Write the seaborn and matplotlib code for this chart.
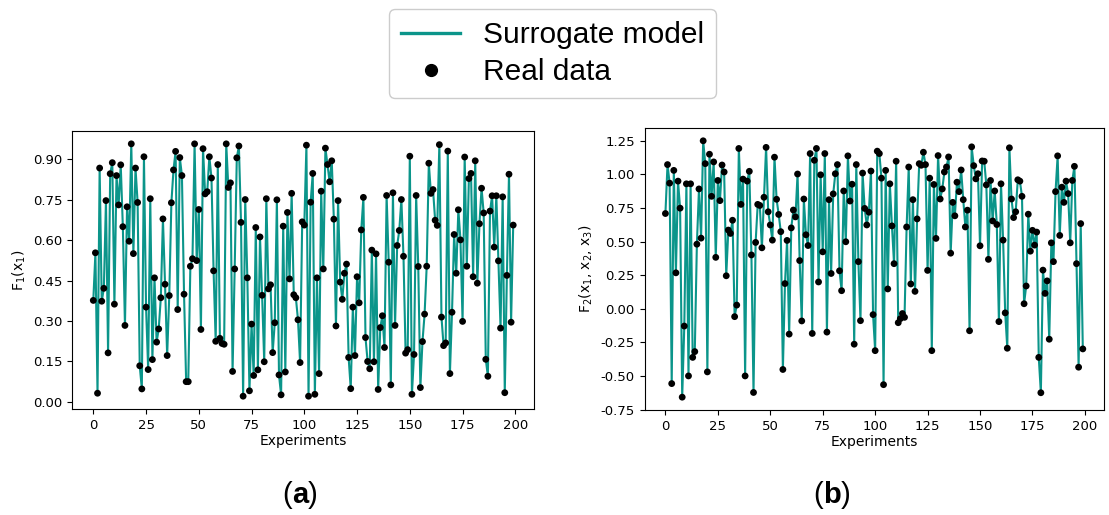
import numpy as np
import seaborn as sns
import matplotlib
matplotlib.use("Agg")
import matplotlib.pyplot as plt
from matplotlib.lines import Line2D
from matplotlib.ticker import FormatStrFormatter
from matplotlib.offsetbox import TextArea, HPacker, AnnotationBbox

# Objective values per experiment
experiments = list(range(200))

f1_values = [
    0.376, 0.553, 0.031, 0.868, 0.373, 0.421, 0.747, 0.181, 0.847, 0.888,
    0.362, 0.840, 0.731, 0.880, 0.650, 0.283, 0.724, 0.596, 0.958, 0.550,
    0.868, 0.740, 0.133, 0.047, 0.910, 0.351, 0.119, 0.754, 0.156, 0.460,
    0.221, 0.270, 0.386, 0.679, 0.436, 0.171, 0.394, 0.739, 0.861, 0.930,
    0.342, 0.907, 0.840, 0.399, 0.074, 0.074, 0.503, 0.531, 0.958, 0.524,
    0.714, 0.268, 0.940, 0.772, 0.780, 0.910, 0.831, 0.486, 0.224, 0.881,
    0.235, 0.216, 0.213, 0.958, 0.796, 0.813, 0.112, 0.493, 0.906, 0.950,
    0.666, 0.020, 0.751, 0.460, 0.040, 0.288, 0.097, 0.647, 0.118, 0.612,
    0.395, 0.148, 0.754, 0.419, 0.434, 0.182, 0.293, 0.750, 0.099, 0.025,
    0.652, 0.110, 0.703, 0.456, 0.774, 0.397, 0.386, 0.304, 0.145, 0.668,
    0.656, 0.953, 0.020, 0.741, 0.848, 0.027, 0.460, 0.104, 0.782, 0.493,
    0.942, 0.881, 0.817, 0.895, 0.678, 0.281, 0.747, 0.444, 0.380, 0.477,
    0.511, 0.164, 0.048, 0.351, 0.171, 0.464, 0.367, 0.638, 0.759, 0.238,
    0.149, 0.122, 0.563, 0.148, 0.549, 0.045, 0.275, 0.319, 0.201, 0.766,
    0.518, 0.062, 0.776, 0.283, 0.580, 0.636, 0.751, 0.540, 0.180, 0.193,
    0.912, 0.027, 0.175, 0.766, 0.502, 0.052, 0.223, 0.325, 0.503, 0.886,
    0.774, 0.788, 0.674, 0.655, 0.955, 0.314, 0.208, 0.218, 0.931, 0.104,
    0.332, 0.621, 0.477, 0.713, 0.601, 0.298, 0.909, 0.503, 0.829, 0.848,
    0.464, 0.895, 0.440, 0.661, 0.793, 0.701, 0.157, 0.094, 0.708, 0.765,
    0.574, 0.765, 0.523, 0.273, 0.761, 0.033, 0.469, 0.845, 0.295, 0.656,
]

f2_values = [
    0.709, 1.073, 0.935, -0.556, 1.030, 0.268, 0.950, 0.749, -0.657, -0.128,
    0.930, -0.499, 0.930, -0.361, -0.318, 0.481, 0.892, 0.526, 1.250, 1.080,
    -0.469, 1.150, 0.837, 1.093, 0.383, 0.955, 0.805, 1.070, 1.018, 0.246,
    0.586, 0.561, 0.659, -0.058, 0.028, 1.193, 0.777, 0.965, -0.499, 0.950,
    1.023, 0.401, -0.622, 0.494, 0.777, 0.769, 0.454, 0.830, 1.201, 0.722,
    0.624, 0.511, 1.128, 0.815, 0.702, 0.574, -0.451, 0.188, 0.509, -0.188,
    0.602, 0.735, 0.684, 1.003, 0.359, -0.090, 0.817, 0.551, 0.471, 1.155,
    -0.183, 1.105, 1.193, 0.200, 0.997, 0.424, 1.155, -0.173, 0.812, 0.263,
    0.855, 1.005, 1.073, 0.283, 0.135, 0.877, 0.499, 1.138, 0.802, 0.927,
    -0.263, 1.073, 0.351, -0.088, 1.010, 0.747, 0.624, 0.719, 1.025, -0.043,
    -0.311, 1.173, 1.155, 0.972, -0.564, 1.030, 0.148, 0.930, 0.617, 0.336,
    1.098, -0.103, -0.073, -0.035, -0.063, 0.609, 1.055, 0.185, 0.812, 0.130,
    0.669, 1.080, 1.068, 1.165, 1.073, 0.286, 0.972, -0.311, 0.925, 0.524,
    1.140, 0.817, 0.892, 1.018, 1.055, 1.130, 0.414, 0.792, 0.692, 0.942,
    0.872, 1.033, 0.812, 0.609, 0.734, -0.163, 1.205, 1.065, 0.967, 1.005,
    0.469, 1.100, 1.098, 0.922, 0.368, 0.955, 0.654, 0.877, 0.627, -0.095,
    0.930, 0.511, -0.030, -0.293, 1.198, 0.817, 0.679, 0.722, 0.960, 0.950,
    0.837, 0.038, 0.170, 0.704, 0.429, 0.584, 0.474, 0.571, -0.361, -0.624,
    0.288, 0.115, 0.208, -0.226, 0.491, 0.351, 0.872, 1.138, 0.546, 0.905,
    0.792, 0.950, 0.857, 0.491, 0.955, 1.060, 0.336, -0.434, 0.634, -0.298,
]

x_ticks = [0, 25, 50, 75, 100, 125, 150, 175, 200]
f1_ticks = [0.00, 0.15, 0.30, 0.45, 0.60, 0.75, 0.90]
f2_ticks = [-0.75, -0.50, -0.25, 0.00, 0.25, 0.50, 0.75, 1.00, 1.25]

x_label = "Experiments"
f1_label = "F$_1$(x$_1$)"
f2_label = "F$_2$(x$_1$, x$_2$, x$_3$)"
legend_labels = ["Surrogate model", "Real data"]
panel_tags = ["a", "b"]

TEAL = "#0b958a"

fig = plt.figure(figsize=(11.09, 5.15), dpi=100)
ax1 = fig.add_axes([0.0652, 0.2062, 0.4165, 0.5390])
ax2 = fig.add_axes([0.5812, 0.2039, 0.4140, 0.5476])

panels = [
    (ax1, f1_values, f1_ticks, f1_label),
    (ax2, f2_values, f2_ticks, f2_label),
]

for ax, vals, yt, ylab in panels:
    sns.lineplot(x=experiments, y=vals, ax=ax, color=TEAL, linewidth=1.5,
                 zorder=1)
    sns.scatterplot(x=experiments, y=vals, ax=ax, color="black", s=24,
                    linewidth=0, edgecolor="none", zorder=2)
    ax.set_xticks(x_ticks)
    ax.set_yticks(yt)
    ax.yaxis.set_major_formatter(FormatStrFormatter("%.2f"))
    ax.tick_params(labelsize=9.5)
    ax.set_xlabel(x_label, fontsize=10, labelpad=2)
    ax.set_ylabel(ylab, fontsize=10)

# Shared legend on top
handles = [
    Line2D([], [], color=TEAL, linewidth=2.4),
    Line2D([], [], color="black", marker="o", linestyle="none", markersize=8.5),
]
fig.legend(handles, legend_labels, loc="upper center",
           bbox_to_anchor=(0.498, 0.982), borderaxespad=0.0,
           prop={"family": "Liberation Sans", "size": 21.5},
           handlelength=2.0, borderpad=0.4, labelspacing=0.3, handletextpad=0.75,
           framealpha=1.0)

# Panel tags "(a)" and "(b)" with bold letters
tag_pos = [(0.2705, 0.0388), (0.7505, 0.0388)]
for tag, (px, py) in zip(panel_tags, tag_pos):
    reg = dict(family="Liberation Sans", size=21)
    bold = dict(family="Liberation Sans", size=21, weight="bold")
    box = HPacker(children=[TextArea("(", textprops=reg),
                            TextArea(tag, textprops=bold),
                            TextArea(")", textprops=reg)],
                  sep=0, pad=0, align="baseline")
    ab = AnnotationBbox(box, (px, py), xycoords="figure fraction",
                        box_alignment=(0.5, 0.5), frameon=False)
    fig.add_artist(ab)

fig.savefig("out.png", dpi=100)
